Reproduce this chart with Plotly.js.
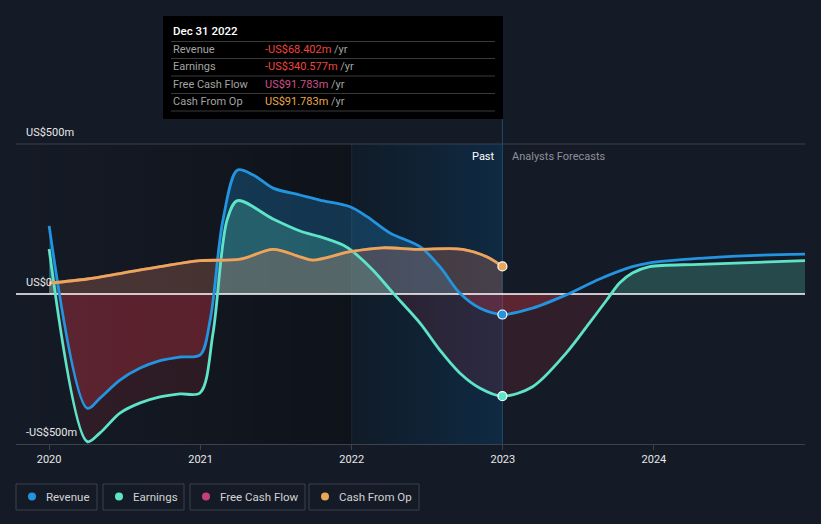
<!DOCTYPE html>
<html><head><meta charset="utf-8">
<script src="https://cdn.plot.ly/plotly-3.0.1.min.js"></script>
<style>html,body{margin:0;padding:0;background:#151b26;}#chart{width:821px;height:524px;}</style>
</head><body><div id="chart"></div>
<script>
// ---- data (US$ millions) ----
const revenueDates = ['2020-01-01','2020-04-02','2020-05-03','2020-06-20','2020-08-08','2020-09-25','2020-11-12','2020-12-31','2021-01-24','2021-02-24','2021-03-31','2021-05-08','2021-06-25','2021-08-29','2021-10-16','2021-12-28','2022-02-07','2022-04-04','2022-06-15','2022-08-02','2022-09-19','2022-11-06','2022-12-31'];
const revenueValues = [227,-381,-347,-287,-247,-222,-210,-203,-87,247,413,397,353,330,313,291,258,203,158,91,3,-47,-68.402];
const revenueForecastDates = ['2023-03-14','2023-06-03','2023-08-23','2023-11-10','2023-12-22','2024-04-21','2024-08-20','2024-12-31'];
const revenueForecastValues = [-47,-3,50,91,104,119,128,133];

const earningsDates = ['2020-01-01','2020-04-02','2020-05-03','2020-06-20','2020-08-08','2020-09-25','2020-11-12','2020-12-31','2021-01-31','2021-03-06','2021-03-31','2021-06-25','2021-08-29','2021-10-16','2021-12-11','2022-01-04','2022-02-21','2022-04-11','2022-06-15','2022-08-02','2022-09-19','2022-11-06','2022-12-31'];
const earningsValues = [150,-492,-463,-397,-363,-343,-333,-329,-130,247,311,250,210,191,163,141,80,3,-97,-187,-263,-313,-340.577];
const earningsForecastDates = ['2023-03-14','2023-06-03','2023-07-29','2023-09-09','2023-10-10','2023-11-10','2023-12-22','2024-04-21','2024-12-31'];
const earningsForecastValues = [-309,-197,-97,-20,37,70,91,99,111];

const cashOpDates = ['2020-01-01','2020-04-02','2020-06-20','2020-09-25','2020-12-31','2021-04-07','2021-06-25','2021-08-29','2021-09-29','2021-12-28','2022-03-17','2022-06-08','2022-09-26','2022-11-23','2022-12-31'];
const cashOpValues = [36,50,68,91,111,116,149,124,113,141,154,149,149,124,91.783];
const fcfDates = ['2020-01-01','2020-04-02','2020-06-20','2020-09-25','2020-12-31','2021-04-07','2021-06-25','2021-08-29','2021-09-29','2021-12-28','2022-03-17','2022-06-08','2022-09-26','2022-11-23','2022-12-31'];
const fcfValues = [36,50,68,91,111,116,149,124,113,141,154,149,149,124,91.783];

const yearTicks = ['2020-01-01','2021-01-01','2022-01-01','2023-01-01','2024-01-01'];
const yearLabels = ['2020','2021','2022','2023','2024'];
const yTickValues = [500,0,-500];
const yTickLabels = ['US$500m','US$0','-US$500m'];

const tooltipTitle = 'Dec 31 2022';
const tooltipLabels = ['Revenue','Earnings','Free Cash Flow','Cash From Op'];
const tooltipValues = ['-US$68.402m','-US$340.577m','US$91.783m','US$91.783m'];
const legendLabels = ['Revenue','Earnings','Free Cash Flow','Cash From Op'];

const pastStart = '2022-01-01';
const pastEnd = '2022-12-31';
const xStart = '2019-10-13';
const xEnd = '2024-12-31';

// ---- styling ----
const C = {rev:'#2394df', earn:'#5ee4c8', fcf:'#c2407f', cfo:'#e8a858'};
const tooltipColors = ['#f0443f','#f0443f','#d0508e','#eaa84a'];
const FONT = 'Roboto, "Open Sans", sans-serif';
const L = 16, R = 805, T = 144, B = 444;
const W = 821, H = 524;
const PX = p => (p - L) / (R - L);
const PY = p => (B - p) / (B - T);

const revAllX = revenueDates.concat(revenueForecastDates);
const revAllY = revenueValues.concat(revenueForecastValues);
const earnAllX = earningsDates.concat(earningsForecastDates);
const earnAllY = earningsValues.concat(earningsForecastValues);

const sp = {shape:'spline', smoothing:0.9};
function fillTrace(x, y, yaxis, color) {
  return {x, y, xaxis:'x', yaxis, type:'scatter', mode:'lines', fill:'tozeroy', fillcolor:color,
    line:Object.assign({width:0, color:'rgba(0,0,0,0)'}, sp), hoverinfo:'skip', showlegend:false};
}
function lineTrace(x, y, color, w) {
  return {x, y, xaxis:'x', yaxis:'y4', type:'scatter', mode:'lines',
    line:Object.assign({width:w, color}, sp), hoverinfo:'skip', showlegend:false};
}

const traces = [
  // background regions on main subplot
  {x:[xStart,pastStart,pastStart,xStart], y:[-500,-500,500,500], xaxis:'x', yaxis:'y', type:'scatter', mode:'none', fill:'toself',
   fillgradient:{type:'horizontal', colorscale:[[0,'rgba(0,0,0,0)'],[1,'rgba(0,0,0,0.32)']]}, hoverinfo:'skip', showlegend:false},
  {x:[pastStart,pastEnd,pastEnd,pastStart], y:[-500,-500,500,500], xaxis:'x', yaxis:'y', type:'scatter', mode:'none', fill:'toself',
   fillgradient:{type:'horizontal', colorscale:[[0,'#101b27'],[1,'#0f2a43']]}, hoverinfo:'skip', showlegend:false},
  {x:[pastStart,pastStart], y:[-500,500], xaxis:'x', yaxis:'y', type:'scatter', mode:'lines', line:{color:'#1d2836', width:1}, hoverinfo:'skip', showlegend:false},
  {x:[pastEnd,pastEnd], y:[-500,500], xaxis:'x', yaxis:'y', type:'scatter', mode:'lines', line:{color:'#1f4a68', width:1}, hoverinfo:'skip', showlegend:false},
  // positive fills
  fillTrace(revenueDates, revenueValues, 'y2', 'rgba(35,148,223,0.27)'),
  fillTrace(earnAllX, earnAllY, 'y2', 'rgba(94,228,200,0.23)'),
  fillTrace(fcfDates, fcfValues, 'y2', 'rgba(194,64,127,0.12)'),
  fillTrace(cashOpDates, cashOpValues, 'y2', 'rgba(232,168,88,0.17)'),
  // negative fills
  fillTrace(earnAllX, earnAllY, 'y3', 'rgba(229,57,70,0.13)'),
  fillTrace(revAllX, revAllY, 'y3', 'rgba(229,57,70,0.25)'),
  // zero line
  {x:[xStart,xEnd], y:[0,0], xaxis:'x', yaxis:'y4', type:'scatter', mode:'lines', line:{color:'#ffffff', width:1.5}, hoverinfo:'skip', showlegend:false},
  // lines
  lineTrace(revAllX, revAllY, C.rev, 2.8),
  lineTrace(earnAllX, earnAllY, C.earn, 2.8),
  lineTrace(fcfDates, fcfValues, C.fcf, 2.8),
  lineTrace(cashOpDates, cashOpValues, C.cfo, 2.8),
  // end markers
  {x:[revenueDates[revenueDates.length-1], earningsDates[earningsDates.length-1], cashOpDates[cashOpDates.length-1]],
   y:[revenueValues[revenueValues.length-1], earningsValues[earningsValues.length-1], cashOpValues[cashOpValues.length-1]],
   xaxis:'x', yaxis:'y4', type:'scatter', mode:'markers', cliponaxis:false,
   marker:{size:9, color:[C.rev, C.earn, C.cfo], line:{color:'#ffffff', width:1.2}}, hoverinfo:'skip', showlegend:false}
];

const shapes = [
  {type:'line', xref:'paper', yref:'paper', x0:0, x1:1, y0:1, y1:1, line:{color:'#3b414d', width:1}, layer:'above'},
  {type:'line', xref:'x', yref:'paper', x0:pastEnd, x1:pastEnd, y0:1, y1:PY(119), line:{color:'#1f4a68', width:1}, layer:'above'},
  // tooltip
  {type:'rect', xref:'paper', yref:'paper', x0:PX(163), x1:PX(503), y0:PY(119), y1:PY(16), fillcolor:'#000000', line:{width:0}, layer:'above'}
];
const annotations = [];
const sepY = [41.5, 58.5, 76, 93.5, 111];
sepY.forEach(y => shapes.push({type:'line', xref:'paper', yref:'paper', x0:PX(171), x1:PX(495), y0:PY(y), y1:PY(y), line:{color:'#3a3a3a', width:1}, layer:'above'}));
annotations.push({xref:'paper', yref:'paper', x:PX(171), y:PY(31), xanchor:'left', yanchor:'middle', showarrow:false,
  text:tooltipTitle, font:{family:FONT, size:11.5, color:'#ffffff', weight:500}});
const rowY = [49.5, 66.5, 84, 101];
tooltipLabels.forEach((lab, i) => {
  annotations.push({xref:'paper', yref:'paper', x:PX(171), y:PY(rowY[i]), xanchor:'left', yanchor:'middle', showarrow:false,
    text:lab, font:{family:FONT, size:11, color:'#a3a3a3'}});
  annotations.push({xref:'paper', yref:'paper', x:PX(263), y:PY(rowY[i]), xanchor:'left', yanchor:'middle', showarrow:false,
    text:'<span style="color:' + tooltipColors[i] + '">' + tooltipValues[i] + '</span> /yr', font:{family:FONT, size:11, color:'#a3a3a3'}});
});
// y labels
const yLabPix = [132, 282, 432];
yTickLabels.forEach((t, i) => annotations.push({xref:'paper', yref:'paper', x:PX(24), y:PY(yLabPix[i]), xanchor:'left', yanchor:'middle', showarrow:false,
  text:t, font:{family:FONT, size:11, color:'#e8e8e8'}}));
// past / forecast
annotations.push({xref:'paper', yref:'paper', x:PX(497), y:PY(156), xanchor:'right', yanchor:'middle', showarrow:false, text:'Past', font:{family:FONT, size:11, color:'#ffffff'}});
annotations.push({xref:'paper', yref:'paper', x:PX(510), y:PY(156), xanchor:'left', yanchor:'middle', showarrow:false, text:'Analysts Forecasts', font:{family:FONT, size:11, color:'#8c9099'}});
// legend
const legBoxes = [[16,97],[103,184],[190,305],[309,419]];
const legColors = [C.rev, C.earn, C.fcf, C.cfo];
legendLabels.forEach((lab, i) => {
  const [a, b] = legBoxes[i];
  shapes.push({type:'rect', xref:'paper', yref:'paper', x0:PX(a), x1:PX(b), y0:PY(510), y1:PY(484), line:{color:'#3a404c', width:1}, fillcolor:'rgba(0,0,0,0)', layer:'above'});
  const cx = a + 16, cy = 496.5;
  shapes.push({type:'circle', xref:'paper', yref:'paper', x0:PX(cx-4), x1:PX(cx+4), y0:PY(cy+4), y1:PY(cy-4), line:{width:0}, fillcolor:legColors[i], layer:'above'});
  annotations.push({xref:'paper', yref:'paper', x:PX(a+28), y:PY(496.5), xanchor:'left', yanchor:'middle', showarrow:false, text:lab, font:{family:FONT, size:11.5, color:'#d2d2d2'}});
});

const hidden = {visible:false, fixedrange:true};
const layout = {
  width:W, height:H,
  margin:{l:L, r:W-R, t:T, b:H-B},
  paper_bgcolor:'#151b26', plot_bgcolor:'rgba(0,0,0,0)',
  showlegend:false, hovermode:false,
  xaxis:{type:'date', range:[xStart, xEnd], domain:[0,1], anchor:'y', showgrid:false, zeroline:false,
    showline:true, linecolor:'#3b414d', linewidth:1, ticks:'outside', ticklen:5, tickcolor:'#3b414d',
    tickvals:yearTicks, ticktext:yearLabels, tickfont:{family:FONT, size:11, color:'#e8e8e8'}, fixedrange:true},
  yaxis:Object.assign({range:[-500,500], domain:[0,1], anchor:'x'}, hidden),
  yaxis2:Object.assign({range:[0,500], domain:[0.5,1], anchor:'x'}, hidden),
  yaxis3:Object.assign({range:[-500,0], domain:[0,0.5], anchor:'x'}, hidden),
  yaxis4:Object.assign({range:[-500,500], domain:[0,1], anchor:'x'}, hidden),
  shapes, annotations
};
Plotly.newPlot('chart', traces, layout, {displayModeBar:false, staticPlot:true});
</script></body></html>
